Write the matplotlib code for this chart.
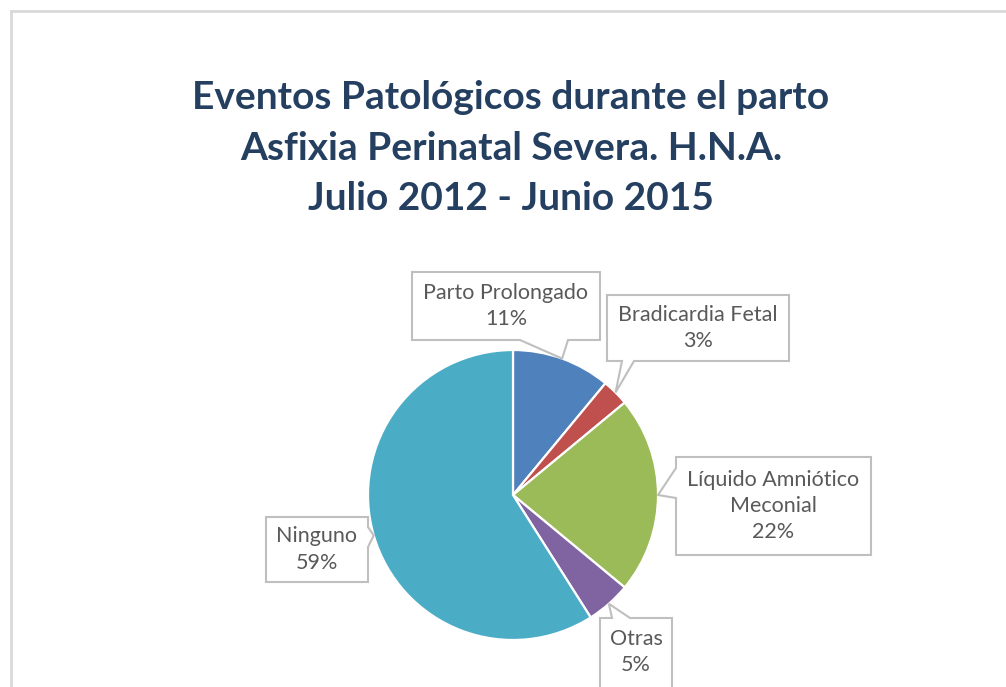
import numpy as np
import matplotlib
matplotlib.use("Agg")
import matplotlib.pyplot as plt
from matplotlib.patches import Polygon
from matplotlib.lines import Line2D

W, H = 1006, 687

title = "Eventos Patológicos durante el parto\nAsfixia Perinatal Severa. H.N.A.\nJulio 2012 - Junio 2015"
labels = ["Parto Prolongado", "Bradicardia Fetal", "Líquido Amniótico\nMeconial", "Otras", "Ninguno"]
values = [11, 3, 22, 5, 59]
colors = ["#4F81BD", "#C0504D", "#9BBB59", "#8064A2", "#4BACC6"]

# callout layout in pixels from the top-left: box (x0, y0, x1, y1), tail side, tail base
boxes = [(412, 272, 600, 340), (607, 295, 789, 361), (676, 457, 871, 555),
         (600, 618, 672, 690), (266, 517, 368, 582)]
tails = [("bottom", 520, 568), ("bottom", 622, 634), ("left", 468, 498),
         ("top", 612, 630), ("right", 527, 547)]

plt.rcParams['font.family'] = ['Lato', 'DejaVu Sans']

fig = plt.figure(figsize=(W / 100, H / 100), dpi=100)
ax = fig.add_axes([0, 0, 1, 1])

cx, cy, r = 513, 495, 145
ax.pie(values, colors=colors, startangle=90, counterclock=False,
       center=(cx, H - cy), radius=r,
       wedgeprops=dict(edgecolor="white", linewidth=1.6))
ax.set_xlim(0, W)
ax.set_ylim(0, H)
ax.set_aspect("equal")
ax.axis("off")


def callout(box, tail, tip):
    x0, y0, x1, y1 = box
    side, b1, b2 = tail
    if side == "bottom":
        pts = [(x0, y0), (x1, y0), (x1, y1), (b2, y1), tip, (b1, y1), (x0, y1)]
    elif side == "top":
        pts = [(x0, y0), (b1, y0), tip, (b2, y0), (x1, y0), (x1, y1), (x0, y1)]
    elif side == "left":
        pts = [(x0, y0), (x1, y0), (x1, y1), (x0, y1), (x0, b2), tip, (x0, b1)]
    else:
        pts = [(x0, y0), (x1, y0), (x1, b1), tip, (x1, b2), (x1, y1), (x0, y1)]
    return [(x, H - y) for x, y in pts]


cum = 0
for lab, v, box, tail in zip(labels, values, boxes, tails):
    ang = np.deg2rad(90 - 360 * (cum + v / 2) / 100)
    cum += v
    tip = (cx + r * np.cos(ang), cy - r * np.sin(ang))
    ax.add_patch(Polygon(callout(box, tail, tip), closed=True, facecolor="white",
                         edgecolor="#BFBFBF", linewidth=1.5, zorder=5))
    tx = (box[0] + box[2]) / 2
    ty = (box[1] + min(box[3], 686)) / 2
    ax.text(tx, H - ty, f"{lab}\n{v}%", ha="center", va="center", fontsize=15.5,
            color="#595959", linespacing=1.38, zorder=6)

fig.text(511 / W, 1 - 148 / H, title, ha="center", va="center", fontsize=28,
         fontweight="bold", color="#243F60", linespacing=1.55)

# chart area border (only left and top are visible in the frame)
fig.add_artist(Line2D([11 / W, 11 / W], [0, 1 - 11 / H], color="#D9D9D9", linewidth=2))
fig.add_artist(Line2D([11 / W, 1], [1 - 11 / H, 1 - 11 / H], color="#D9D9D9", linewidth=2))

fig.savefig("out.png", dpi=100, facecolor="white")
